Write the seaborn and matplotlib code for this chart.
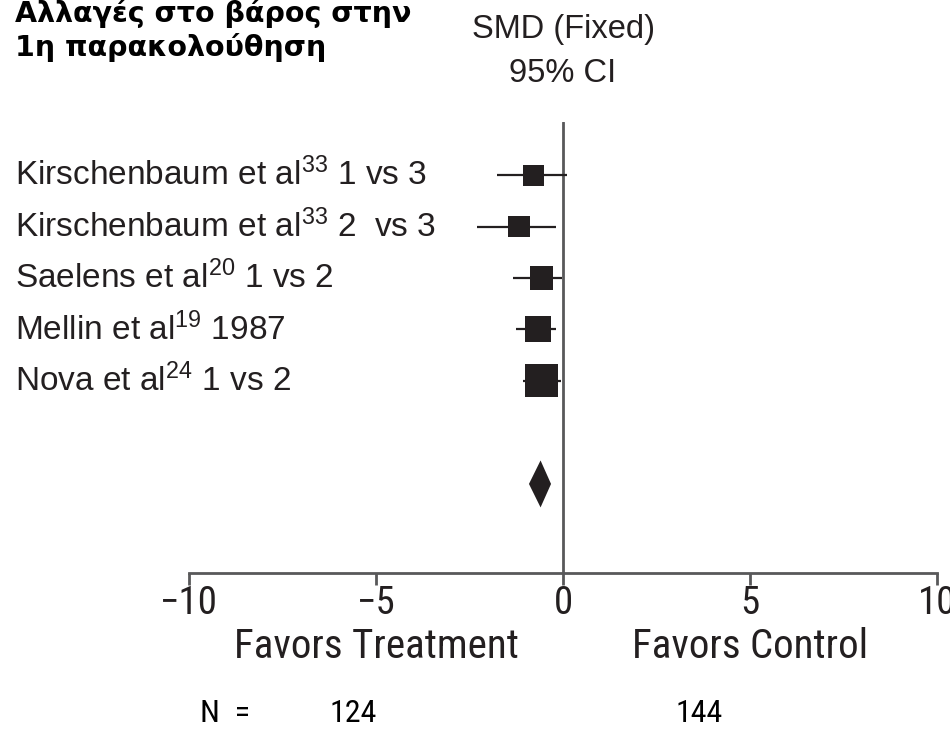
import numpy as np
import pandas as pd
import matplotlib
matplotlib.use("Agg")
import matplotlib.pyplot as plt
import matplotlib.transforms as mtransforms
from matplotlib import font_manager
import seaborn as sns

# Study-level standardized mean differences (fixed effect) with 95% CI
studies = [
    "Kirschenbaum et al$^{33}$ 1 vs 3",
    "Kirschenbaum et al$^{33}$ 2  vs 3",
    "Saelens et al$^{20}$ 1 vs 2",
    "Mellin et al$^{19}$ 1987",
    "Nova et al$^{24}$ 1 vs 2",
]
smd = [-0.79, -1.18, -0.57, -0.67, -0.57]
ci_low = [-1.77, -2.29, -1.35, -1.27, -1.08]
ci_high = [0.12, -0.19, -0.03, -0.19, -0.06]
weights = [13.7, 14.6, 16.9, 21.0, 33.8]

# Pooled estimate
pooled = -0.60
pooled_low = -0.91
pooled_high = -0.32

xticks = [-10, -5, 0, 5, 10]
xticklabels = ["\u221210", "\u22125", "0", "5", "10"]
side_labels = ["Favors Treatment", "Favors Control"]
n_prefix = "N  ="
n_labels = ["124", "144"]

title_lines = ["Αλλαγές στο βάρος στην", "1η παρακολούθηση"]
header_lines = ["SMD (Fixed)", "95% CI"]

sns.set_theme(style="white")
plt.rcParams["font.family"] = ["Liberation Sans", "DejaVu Sans"]
plt.rcParams["mathtext.fontset"] = "custom"
plt.rcParams["mathtext.rm"] = "Liberation Sans"
plt.rcParams["mathtext.it"] = "Liberation Sans"
plt.rcParams["mathtext.bf"] = "Liberation Sans:bold"

# A narrow sans for the axis annotations, if one is installed
available = {f.name for f in font_manager.fontManager.ttflist}
narrow = None
for cand in ["Liberation Sans Narrow", "Roboto Condensed",
             "Open Sans Condensed", "Noto Sans Condensed"]:
    if cand in available:
        narrow = cand
        break
if narrow is not None:
    ann_family, tick_fs, side_fs, n_fs = narrow, 28, 29.5, 23
else:
    ann_family, tick_fs, side_fs, n_fs = "Liberation Sans", 24, 25.5, 19.5

W, H = 950, 732
fig = plt.figure(figsize=(W / 100, H / 100), dpi=100)
fig.patch.set_facecolor("white")

ink = "#231f20"
rule = "#58585a"

rows = np.arange(len(studies))
pooled_row = len(studies) + 1

ax = fig.add_axes([189 / W, 1 - 573 / H, (937 - 189) / W, (573 - 122) / H])
ax.set_xlim(-10, 10)
ax.set_ylim(7.73, -1.03)

df = pd.DataFrame({"study": studies, "smd": smd, "lo": ci_low,
                   "hi": ci_high, "weight": weights, "row": rows})

# Confidence intervals
ax.hlines(df["row"], df["lo"], df["hi"], color=ink, lw=1.6, zorder=2)

# Weighted boxes (area proportional to weight)
sns.scatterplot(data=df, x="smd", y="row", size="weight",
                sizes=(0, 668), size_norm=(0, 40), marker="s",
                color=ink, linewidth=0, legend=False, ax=ax, zorder=3)

# Pooled diamond
half_h = 0.456
ax.fill([pooled_low, pooled, pooled_high, pooled],
        [pooled_row, pooled_row - half_h, pooled_row, pooled_row + half_h],
        color=ink, lw=0, zorder=3)

# Line of no effect
ax.axvline(0, color=rule, lw=2.0, zorder=1)

for s in ["left", "top", "right"]:
    ax.spines[s].set_visible(False)
ax.spines["bottom"].set_color(rule)
ax.spines["bottom"].set_linewidth(2.0)
ax.set_yticks([])
ax.set_xticks(xticks)
ax.set_xticklabels(xticklabels, family=ann_family, fontsize=tick_fs,
                   color=ink)
ax.tick_params(axis="x", direction="out", length=8.6, width=2.0,
               color=rule, pad=0, bottom=True)
ax.set_xlabel("")
ax.set_ylabel("")

# Study labels at the left edge, aligned with their rows
trans = mtransforms.blended_transform_factory(fig.transFigure, ax.transData)
for r, name in zip(rows, studies):
    ax.text(15 / W, r, name, transform=trans, ha="left", va="center",
            fontsize=24, color=ink)

# Direction labels under the axis
tx = mtransforms.blended_transform_factory(ax.transData, fig.transFigure)
for xpos, lab in zip([-5, 5], side_labels):
    ax.text(xpos, 1 - 658 / H, lab, transform=tx, ha="center",
            va="baseline", family=ann_family, fontsize=side_fs, color=ink)

# Sample sizes
fig.text(200 / W, 1 - 722 / H, n_prefix, ha="left", va="baseline",
         family=ann_family, fontsize=n_fs, color="black")
for xpos, lab in zip([-5.6, 3.65], n_labels):
    ax.text(xpos, 1 - 722 / H, lab, transform=tx, ha="center",
            va="baseline", family=ann_family, fontsize=n_fs, color="black")

# Column header
fig.text(563 / W, 1 - 38 / H, header_lines[0], ha="center", va="baseline",
         fontsize=23.5, color=ink)
fig.text(563 / W, 1 - 82 / H, header_lines[1], ha="center", va="baseline",
         fontsize=23.5, color=ink)

# Title
fig.text(15 / W, 1 - 22 / H, title_lines[0], ha="left", va="baseline",
         family="DejaVu Sans", fontweight="bold", fontsize=20.5,
         color="black")
fig.text(15 / W, 1 - 56 / H, title_lines[1], ha="left", va="baseline",
         family="DejaVu Sans", fontweight="bold", fontsize=20.5,
         color="black")

fig.savefig("out.png", dpi=100, facecolor="white")
